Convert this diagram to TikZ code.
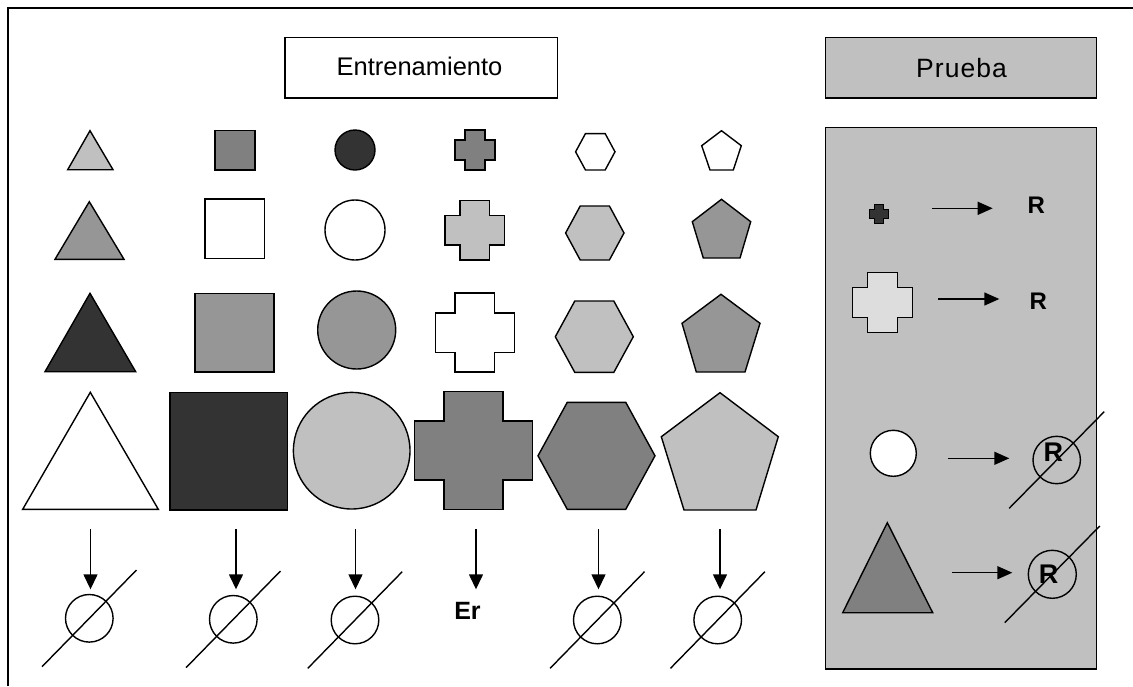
\documentclass[tikz,border=0pt]{standalone}
\usepackage{fontspec}
\usepackage{graphicx}
\setmainfont{Liberation Sans}
\usetikzlibrary{arrows.meta}
\definecolor{lg}{HTML}{C0C0C0}
\definecolor{mg}{HTML}{969696}
\definecolor{dg}{HTML}{808080}
\definecolor{vd}{HTML}{333333}
\definecolor{xl}{HTML}{DDDDDD}
% cross: cx cy s fill
\newcommand\crossfig[4]{%
 \draw[shp,fill=#4] ({#1-#3/2},{#2-#3}) -- ({#1+#3/2},{#2-#3}) -- ({#1+#3/2},{#2-#3/2}) -- ({#1+#3},{#2-#3/2}) -- ({#1+#3},{#2+#3/2}) -- ({#1+#3/2},{#2+#3/2}) -- ({#1+#3/2},{#2+#3}) -- ({#1-#3/2},{#2+#3}) -- ({#1-#3/2},{#2+#3/2}) -- ({#1-#3},{#2+#3/2}) -- ({#1-#3},{#2-#3/2}) -- ({#1-#3/2},{#2-#3/2}) -- cycle;}
% hexagon: cx cy w h fill
\newcommand\hexfig[5]{%
 \draw[shp,fill=#5] ({#1-#3},#2) -- ({#1-#3/2},{#2-#4}) -- ({#1+#3/2},{#2-#4}) -- ({#1+#3},#2) -- ({#1+#3/2},{#2+#4}) -- ({#1-#3/2},{#2+#4}) -- cycle;}
\begin{document}
\begin{tikzpicture}[x=1pt,y=-1pt,
  shp/.style={draw=black,line width=1.4pt,line join=miter},
  arr/.style={line width=1.4pt,-{Triangle[length=15pt,width=14pt]}},
  harr/.style={line width=1.4pt,-{Triangle[length=15pt,width=13pt]}},
  nullc/.style={circle,draw,line width=1.4pt,minimum size=47.6pt,inner sep=0pt},
  slash/.style={line width=1.4pt},
  lbl/.style={inner sep=0pt,anchor=center}]
\useasboundingbox (0,0) rectangle (1133,686);
\fill[white] (0,0) rectangle (1133,686);
% outer frame
\draw[line width=1.8pt] (8,686) -- (8,8) -- (1133,8);

% title boxes
\node[draw,line width=1.5pt,minimum width=272.4pt,minimum height=60.6pt,inner sep=0pt,fill=white] (train) at (421.4,67.8) {};
\node[lbl] (traint) at (419.5,66) {\fontsize{25.5}{30}\selectfont Entrenamiento};
\node[draw,line width=1.5pt,minimum width=271pt,minimum height=60.6pt,inner sep=0pt,fill=lg] (test) at (961.2,67.8) {};
\node[lbl] (testt) at (961.5,68) {\fontsize{26.5}{30}\selectfont\addfontfeature{LetterSpace=4}Prueba};

% test panel
\draw[line width=1.4pt,fill=lg] (825.7,127.7) rectangle (1096.7,669);

% ---- row 1
\draw[shp,fill=lg] (67.7,169.7) -- (113,169.7) -- (90,130.7) -- cycle;
\draw[shp,fill=dg] (215,130.7) rectangle (255,170);
\draw[shp,fill=vd] (355,150) circle[radius=20];
\crossfig{475}{150}{20}{dg}
\hexfig{595.3}{151.8}{19.7}{18.2}{white}
\draw[shp,fill=white] (721.5,130.7) -- (741.3,145.7) -- (733.3,170) -- (710,170) -- (701.7,145.7) -- cycle;

% ---- row 2
\draw[shp,fill=mg] (55,259.3) -- (124,259.3) -- (89.3,201.7) -- cycle;
\draw[shp,fill=white] (205,199) rectangle (264.5,258.5);
\draw[shp,fill=white] (355,230) circle[radius=30];
\crossfig{474.7}{230.3}{29.7}{lg}
\hexfig{594.8}{233}{29.2}{27}{lg}
\draw[shp,fill=mg] (721.5,199.3) -- (750.7,221.7) -- (740,258) -- (703.3,258) -- (692.3,221.7) -- cycle;

% ---- row 3
\draw[shp,fill=vd] (45,371.7) -- (135.7,371.7) -- (90,293.3) -- cycle;
\draw[shp,fill=mg] (195,293.3) rectangle (274,372);
\draw[shp,fill=mg] (356.7,330) circle[radius=39];
\crossfig{474.8}{332.5}{39.4}{white}
\hexfig{594.3}{336.7}{39}{35.7}{lg}
\draw[shp,fill=mg] (721,294.3) -- (760,323.3) -- (745,372) -- (696.3,372) -- (682,323.3) -- cycle;

% ---- row 4
\draw[shp,fill=white] (22.7,509.3) -- (158.3,509.3) -- (90.3,392.3) -- cycle;
\draw[shp,fill=vd] (170,392.7) rectangle (287.7,510);
\draw[shp,fill=lg] (351.7,450.7) circle[radius=58.3];
\crossfig{473.3}{450.5}{59}{dg}
\hexfig{596.5}{455.8}{58.5}{53.5}{dg}
\draw[shp,fill=lg] (720,392.7) -- (778.3,436.7) -- (756,510) -- (684,510) -- (661.3,436.7) -- cycle;

% ---- results (training)
\foreach \i/\x in {1/90.5,2/236,3/355.5,4/476,5/598.5,6/720}{
  \coordinate (s\i) at (\x,529);
  \coordinate (e\i) at (\x,589.3);
  \draw[arr] (s\i) -- (e\i);
}
\foreach \i/\x/\y in {1/89.3/618.3,2/233.3/619.3,3/355/620,5/597.3/620,6/717.7/620}{
  \node[nullc] (n\i) at (\x,\y) {};
  \draw[slash] ([shift={(-47.2,48.3)}]n\i.center) -- ([shift={(47.2,-48.3)}]n\i.center);
}
\node[lbl] (er) at (467.5,610.8) {\fontsize{25}{30}\selectfont\bfseries Er};

% ---- test panel content
\crossfig{879}{214}{9.5}{vd}
\crossfig{882.5}{302.3}{30}{xl}
\draw[shp,fill=white] (893.3,453.3) circle[radius=23];
\draw[shp,fill=dg] (842.7,612.7) -- (932.7,612.7) -- (887.3,522.7) -- cycle;

\coordinate (p1s) at (932.3,208.3); \coordinate (p1e) at (992.7,208.3);
\coordinate (p2s) at (938.3,299);   \coordinate (p2e) at (999.3,299);
\coordinate (p3s) at (948.3,458.3); \coordinate (p3e) at (1009.3,458.3);
\coordinate (p4s) at (952,572.7);   \coordinate (p4e) at (1012.3,572.7);
\draw[harr] (p1s) -- (p1e);
\draw[harr] (p2s) -- (p2e);
\draw[harr] (p3s) -- (p3e);
\draw[harr] (p4s) -- (p4e);

\node[lbl] (r1) at (1036.2,205.7) {\fontsize{24}{28}\selectfont\bfseries R};
\node[lbl] (r2) at (1038.3,300.8) {\fontsize{24}{28}\selectfont\bfseries R};

\node[nullc,minimum size=47.4pt] (c3) at (1056.7,460) {};
\node[lbl] (r3) at (1053.3,452.7) {\fontsize{27}{30}\selectfont\bfseries R};
\draw[slash] ([shift={(-47.5,48.3)}]c3.center) -- ([shift={(47.5,-48.3)}]c3.center);

\node[nullc,minimum size=48pt] (c4) at (1052.3,574.3) {};
\node[lbl] (r4) at (1048.7,574.3) {\fontsize{27}{30}\selectfont\bfseries R};
\draw[slash] ([shift={(-47.5,48.3)}]c4.center) -- ([shift={(47.5,-48.3)}]c4.center);
\end{tikzpicture}
\end{document}
